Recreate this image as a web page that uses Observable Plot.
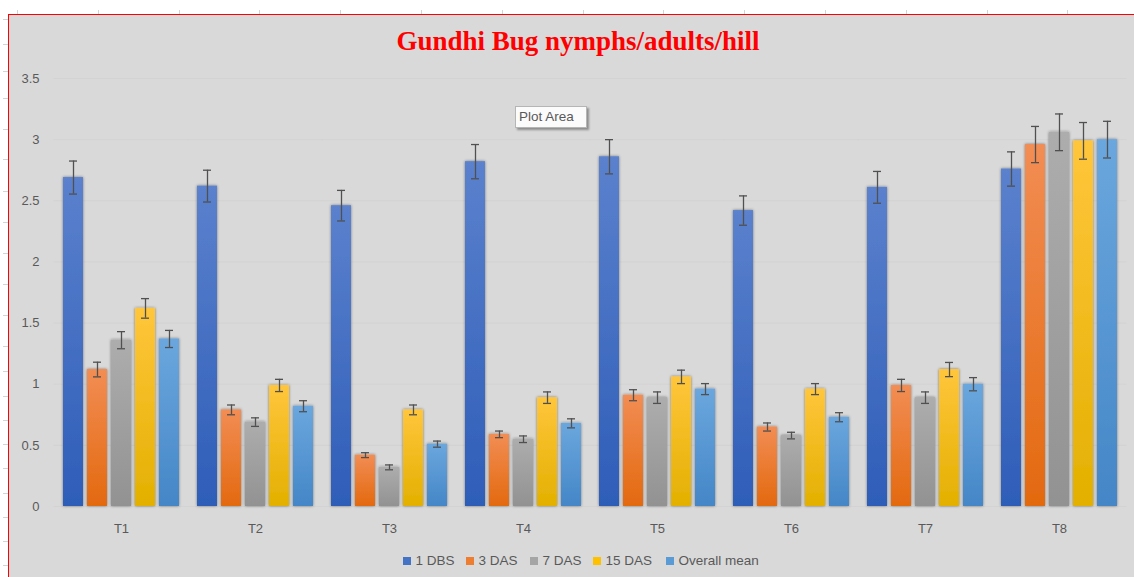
<!DOCTYPE html>
<html>
<head>
<meta charset="utf-8">
<script src="https://cdn.jsdelivr.net/npm/d3@7"></script>
<script src="https://cdn.jsdelivr.net/npm/@observablehq/plot@0.6"></script>
<style>
  html, body { margin: 0; padding: 0; background: #ffffff; width: 1134px; height: 577px; overflow: hidden; }
  body { position: relative; font-family: "Liberation Sans", Arial, sans-serif; }
  #frame { position: absolute; left: 8px; top: 14px; width: 1140px; height: 580px; background: #d9d9d9;
           border-left: 1.5px solid #ff0000; border-top: 1.5px solid #ff0000; }
  #title { position: absolute; left: 578px; top: 28px; transform: translateX(-50%); white-space: nowrap;
           font-family: "Liberation Serif", "Times New Roman", serif; font-weight: bold; font-size: 27px;
           line-height: 27px; color: #ff0000; }
  #chart { position: absolute; left: 0; top: 60px; }
  .leg { position: absolute; top: 554px; display: flex; align-items: center; font-size: 13.5px; line-height: 13.5px;
         color: #595959; white-space: nowrap; }
  .leg span.sw { display: inline-block; width: 8px; height: 8px; margin-right: 4.5px; }
  #tip { position: absolute; left: 515px; top: 106px; width: 70px; height: 20px; background: #fbfbfb;
         border: 1px solid #b5b5b5; box-shadow: 1.5px 1.5px 2px rgba(0,0,0,0.35); font-size: 13.5px;
         line-height: 20px; color: #595959; text-indent: 3px; white-space: nowrap; }
  .rt { position: absolute; background: #d4d4d4; }
</style>
</head>
<body>
<div id="frame"></div>
<div id="title">Gundhi Bug nymphs/adults/hill</div>
<div id="chart"></div>
<div id="legend"></div>
<div id="tip">Plot Area</div>
<script>
// ---- data ----
const treatments = ["T1", "T2", "T3", "T4", "T5", "T6", "T7", "T8"];
const series = ["1 DBS", "3 DAS", "7 DAS", "15 DAS", "Overall mean"];
const yTicks = [0, 0.5, 1, 1.5, 2, 2.5, 3, 3.5];

const dbs1   = [2.69, 2.62, 2.46, 2.82, 2.86, 2.42, 2.61, 2.76];
const das3   = [1.12, 0.79, 0.42, 0.59, 0.91, 0.65, 0.99, 2.96];
const das7   = [1.36, 0.69, 0.32, 0.55, 0.89, 0.58, 0.89, 3.06];
const das15  = [1.62, 0.99, 0.79, 0.89, 1.06, 0.96, 1.12, 2.99];
const overallMean = [1.37, 0.82, 0.51, 0.68, 0.96, 0.73, 1.00, 3.00];

const dbs1Err  = [0.135, 0.13, 0.125, 0.14, 0.14, 0.12, 0.13, 0.14];
const das3Err  = [0.06, 0.04, 0.02, 0.027, 0.045, 0.033, 0.05, 0.148];
const das7Err  = [0.07, 0.035, 0.02, 0.027, 0.047, 0.027, 0.047, 0.15];
const das15Err = [0.08, 0.05, 0.04, 0.047, 0.055, 0.045, 0.058, 0.15];
const meanErr  = [0.07, 0.045, 0.025, 0.037, 0.045, 0.037, 0.054, 0.15];

// ---- styles ----
const swatch  = ["#4472c4", "#ed7d31", "#a5a5a5", "#ffc000", "#5b9bd5"];
const gradTop = ["#5b81cd", "#f28d54", "#adadad", "#ffc63c", "#6ba7de"];
const gradBot = ["#2e5db8", "#e3690f", "#929292", "#e3b000", "#4486c7"];

const values = [dbs1, das3, das7, das15, overallMean];
const errors = [dbs1Err, das3Err, das7Err, das15Err, meanErr];
const data = treatments.flatMap((t, i) => series.map((s, j) => ({t, s, v: values[j][i], e: errors[j][i]})));

const fillOf = d => `url(#grad${series.indexOf(d.s)})`;

const svg = Plot.plot({
  width: 1134,
  height: 480,
  marginLeft: 52,
  marginRight: 6.5,
  marginTop: 18,
  marginBottom: 34,
  style: {background: "transparent", color: "#595959", fontSize: "13px", fontFamily: "'Liberation Sans', Arial, sans-serif"},
  fx: {domain: treatments, paddingInner: 0.137, paddingOuter: 0.0685, label: null},
  x: {domain: series, paddingInner: 0.17, paddingOuter: 0, axis: null},
  y: {domain: [0, 3.5], label: null},
  marks: [
    Plot.ruleY(yTicks, {y: d => d, stroke: "#d3d3d3", strokeWidth: 1, insetLeft: -9.5, insetRight: -9.5}),
    Plot.axisY({ticks: yTicks, tickFormat: d => String(d), tickSize: 0, tickPadding: 24, label: null, fontSize: 13}),
    Plot.axisFx({anchor: "bottom", tickSize: 0, tickPadding: 17, label: null, fontSize: 13}),
    Plot.barY(data, {fx: "t", x: "s", y: "v", fill: fillOf}),
    Plot.ruleX(data, {fx: "t", x: "s", y1: d => d.v - d.e, y2: d => d.v + d.e, stroke: "#505050", strokeWidth: 1.3}),
    Plot.tickY(data, {fx: "t", x: "s", y: d => d.v + d.e, stroke: "#505050", strokeWidth: 1.3, insetLeft: 6, insetRight: 6}),
    Plot.tickY(data, {fx: "t", x: "s", y: d => d.v - d.e, stroke: "#505050", strokeWidth: 1.3, insetLeft: 6, insetRight: 6})
  ]
});

// gradients + soft shadow
const defs = d3.select(svg).insert("defs", ":first-child");
series.forEach((s, i) => {
  const g = defs.append("linearGradient").attr("id", `grad${i}`).attr("x1", 0).attr("y1", 0).attr("x2", 0).attr("y2", 1);
  g.append("stop").attr("offset", "0%").attr("stop-color", gradTop[i]);
  g.append("stop").attr("offset", "100%").attr("stop-color", gradBot[i]);
});
const f = defs.append("filter").attr("id", "barShadow").attr("x", "-40%").attr("y", "-5%").attr("width", "180%").attr("height", "110%");
f.append("feDropShadow").attr("dx", 0).attr("dy", 0).attr("stdDeviation", 1.6).attr("flood-color", "#000").attr("flood-opacity", 0.45);
d3.select(svg).selectAll('g[aria-label="bar"] rect').attr("filter", "url(#barShadow)");

document.getElementById("chart").appendChild(svg);

// legend
const legX = [403, 466, 530, 593, 666];
const legend = document.getElementById("legend");
series.forEach((s, i) => {
  const item = document.createElement("div");
  item.className = "leg";
  item.style.left = legX[i] + "px";
  item.innerHTML = `<span class="sw" style="background:${swatch[i]}"></span>${s}`;
  legend.appendChild(item);
});

// faint ruler marks of the screenshot
const topTicks = d3.range(0, 14).map(k => 17 + 80.8 * k);
topTicks.forEach(x => {
  const d = document.createElement("div");
  d.className = "rt";
  Object.assign(d.style, {left: x + "px", top: "10px", width: "1px", height: "4px"});
  document.body.appendChild(d);
});
const leftTicks = [19, 44, 71, 98, 129, 159, 191, 222, 253, 284, 315, 346, 371, 396, 420, 444, 468, 493, 517, 541, 565];
leftTicks.forEach(y => {
  const d = document.createElement("div");
  d.className = "rt";
  Object.assign(d.style, {left: "3px", top: y + "px", width: "5px", height: "1px"});
  document.body.appendChild(d);
});
</script>
</body>
</html>
